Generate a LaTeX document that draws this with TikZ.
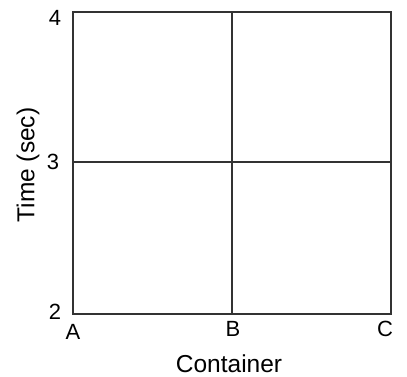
\documentclass[tikz,border=0pt]{standalone}
\usepackage{fontspec}
\setmainfont{Liberation Sans}
\begin{document}
\begin{tikzpicture}[x=1pt,y=-1pt,
  gridline/.style={line width=1.7pt,draw=black!80},
  lbl/.style={inner sep=0pt,font=\fontsize{22}{24}\selectfont},
  ttl/.style={inner sep=0pt,text depth=0pt,font=\fontsize{24.5}{28}\selectfont}]
\useasboundingbox (0,0) rectangle (407,377);
\coordinate (tl) at (73,12);
\coordinate (br) at (391,314);
\coordinate (mt) at (232,12);
\coordinate (mb) at (232,314);
\coordinate (ml) at (73,162);
\coordinate (mr) at (391,162);
\draw[gridline] (tl) rectangle (br);
\draw[gridline] (mt) -- (mb);
\draw[gridline] (ml) -- (mr);
\node[lbl] (y4) at (55,18) {4};
\node[lbl] (y3) at (53,162) {3};
\node[lbl] (y2) at (55,312) {2};
\node[lbl] (xa) at (73,332) {A};
\node[lbl] (xb) at (233,329) {B};
\node[lbl] (xc) at (385,329) {C};
\node[ttl,anchor=base] (xt) at (229,372) {Container};
\node[ttl,rotate=90,text depth=] (yt) at (28,165) {Time (sec)};
\end{tikzpicture}
\end{document}
